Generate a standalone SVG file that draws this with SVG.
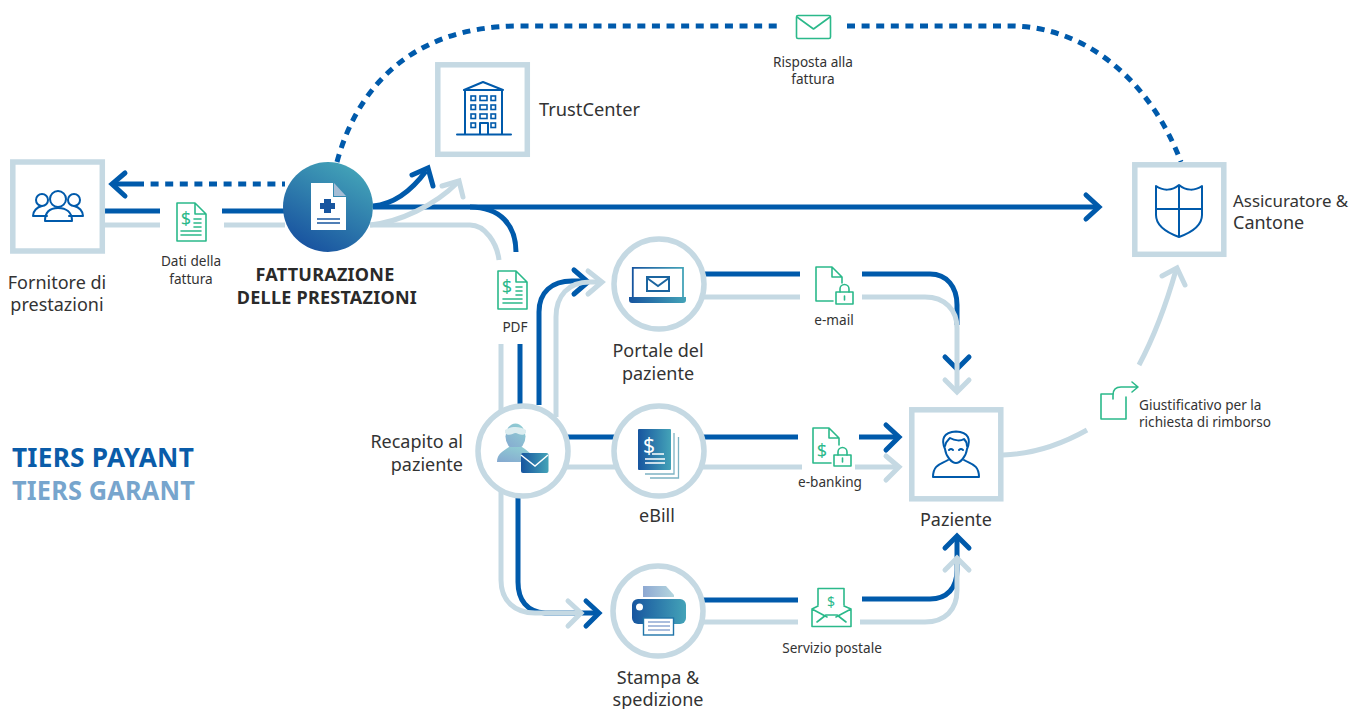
<svg xmlns="http://www.w3.org/2000/svg" width="1349" height="709" viewBox="0 0 1349 709">
<style>
text{font-family:"Noto Sans","Open Sans",sans-serif;fill:#333}
.l{font-size:18px}.s{font-size:13.6px}.m{text-anchor:middle}
.b{font-size:18px;letter-spacing:.25px;font-weight:700;text-anchor:middle;fill:#2a2a2a}
.t{font-size:26px;letter-spacing:.2px;font-weight:700;font-family:"Noto Sans",sans-serif}
.d,.c,.chd,.chc,.dot{fill:none;stroke-width:5}
.d{stroke:#005aab}.c{stroke:#c5d9e3}
.chd{stroke:#005aab;stroke-linecap:round;stroke-linejoin:miter}
.chc{stroke:#c5d9e3;stroke-linecap:round;stroke-linejoin:miter}
.dot{stroke:#005aab;stroke-dasharray:8 6.6}
.box{fill:#fff;stroke:#c5d9e3;stroke-width:5.5}
.ic{fill:none;stroke:#005aab;stroke-width:2;stroke-linejoin:round;stroke-linecap:round}
.g{fill:none;stroke:#2bb98a;stroke-width:1.6;stroke-linejoin:round;stroke-linecap:round}
.gt{font-size:18px;fill:#2bb98a;text-anchor:middle}
</style>
<defs>
<linearGradient id="gr" x1="0" y1="0" x2="1" y2="0"><stop offset="0" stop-color="#17559f"/><stop offset="1" stop-color="#44a3b8"/></linearGradient>
<linearGradient id="gm" x1="0.25" y1="1" x2="0.8" y2="0"><stop offset="0" stop-color="#17509f"/><stop offset="1" stop-color="#45a7b9"/></linearGradient>
<linearGradient id="gl" x1="0" y1="1" x2="0.6" y2="0"><stop offset="0" stop-color="#85a8d0"/><stop offset="1" stop-color="#8fcbd3"/></linearGradient>
<linearGradient id="gp" x1="0" y1="0" x2="1" y2="0"><stop offset="0" stop-color="#8ea8d2"/><stop offset="1" stop-color="#b4d6de"/></linearGradient>
</defs>

<g id="connectors">
<path class="dot" d="M337 162C355 95 405 26 520 26H781"/>
<path class="dot" d="M847 26H1010C1085 26 1150 80 1181 162"/>
<path class="dot" d="M136 184H285"/>
<path class="d" d="M112 184H136"/>
<path class="chd" d="M125 173L112 184L125 196"/>
<path class="d" d="M105 211H160M222 211H285"/>
<path class="d" d="M373 207H1097"/>
<path class="chd" d="M1086 195L1099 207L1086 219"/>
<path class="d" d="M373 206C395 204 412 190 426 171"/>
<path class="chd" d="M412 175L428 168L433 186"/>
<path class="d" d="M470 207C500 207 516 225 516 252"/>
<path class="d" d="M520 344V410"/>
<path class="d" d="M539 405V312C539 292 552 281 572 281H586"/>
<path class="chd" d="M574 270L588 282L574 294"/>
<path class="d" d="M518 495V582C518 600 527 612 545 613H597"/>
<path class="chd" d="M586 601L599 613L586 626"/>
<path class="d" d="M704 274H800M862 274H930C947 274 957 287 957 305V325"/>
<path class="chd" d="M945 357L957 369L969 357"/>
<path class="d" d="M566 437H616M702 437H798M859 437H897"/>
<path class="chd" d="M886 425L899 437L886 450"/>
<path class="d" d="M703 600H798M862 599H930C947 599 957 588 957 570V537"/>
<path class="chd" d="M945 548L957 536L969 548"/>

<path class="c" d="M105 225H160M224 225H285"/>
<path class="c" d="M370 225C400 222 435 205 457 183"/>
<path class="chc" d="M442 186L459 181L463 197"/>
<path class="c" d="M370 225H470C485 225 497 243 499 260"/>
<path class="c" d="M501 344V410"/>
<path class="c" d="M556 417V317C556 296 568 282 590 282H600"/>
<path class="chc" d="M588 271L602 282L588 294"/>
<path class="c" d="M501 490V580C501 601 515 613 535 613H580"/>
<path class="chc" d="M568 601L581 613L568 626"/>
<path class="c" d="M704 297H800M862 297H925C945 297 957 310 957 328V391"/>
<path class="chc" d="M945 380L957 392L969 380"/>
<path class="c" d="M566 467H616M702 467H802M855 467H897"/>
<path class="chc" d="M886 456L899 467L886 480"/>
<path class="c" d="M703 622H798M860 622H925C945 622 957 610 957 590V560"/>
<path class="chc" d="M945 570L957 558L969 570"/>
<path class="c" d="M1003 455C1035 454 1062 444 1087 430"/>
<path class="c" d="M1139 365C1155 335 1166 305 1176 270"/>
<path class="chc" d="M1162 276L1177 268L1185 285"/>
</g>

<g id="fornitore">
<rect class="box" x="12.800" y="162" width="89.500" height="89"/>
<circle class="ic" cx="58" cy="199" r="8"/>
<circle class="ic" cx="42" cy="200" r="6"/>
<circle class="ic" cx="74" cy="200" r="6"/>
<path class="ic" d="M45 221C45 212 50 208 58 208C66 208 72 212 72 221Z"/>
<path class="ic" d="M47 216H33C33 211 37 207 42 206M69 216H83C83 211 79 207 74 206"/>
<text class="l m" x="57" y="289">Fornitore di</text>
<text class="l m" x="57" y="311">prestazioni</text>
</g>

<g id="dati">
<path class="g" d="M177 203H195L206 214V241H177Z M195 203V214H206"/>
<text class="gt" x="186" y="225">$</text>
<path class="g" d="M194 219H201M194 223H201M194 227H201M181 231H201M181 235H201"/>
<text class="s m" x="191" y="266">Dati della</text>
<text class="s m" x="191" y="284">fattura</text>
</g>

<g id="fatturazione">
<circle cx="328" cy="207" r="45" fill="url(#gm)"/>
<path d="M311 183H333V197H346V230H311Z" fill="#fff"/>
<path d="M334 183L346 196H334Z" fill="#a5bdd5"/>
<path d="M324 199H331V203H335V209H331V213H324V209H320V203H324Z" fill="#17559f"/>
<path d="M317 219H340M317 223H340" stroke="#17559f" stroke-width="1.500"/>
<text class="b" x="325" y="280.500">FATTURAZIONE</text>
<text class="b" x="327" y="303.500">DELLE PRESTAZIONI</text>
</g>

<g id="trustcenter">
<rect class="box" x="437.800" y="64.800" width="89.500" height="89.500"/>
<path class="ic" d="M465 134V90H502V134M464 90L483 82L503 90M457 134.500H511"/>
<path class="ic" d="M480 134V123H488V134"/>
<g fill="none" stroke="#005aab" stroke-width="1.600">
<rect x="471" y="96" width="4.500" height="4.500"/><rect x="480" y="96" width="7" height="4.500"/><rect x="491" y="96" width="4.500" height="4.500"/>
<rect x="471" y="105" width="4.500" height="4.500"/><rect x="480" y="105" width="7" height="4.500"/><rect x="491" y="105" width="4.500" height="4.500"/>
<rect x="471" y="114" width="4.500" height="4.500"/><rect x="480" y="114" width="7" height="4.500"/><rect x="491" y="114" width="4.500" height="4.500"/>
<rect x="471" y="123" width="4.500" height="4.500"/><rect x="491" y="123" width="4.500" height="4.500"/>
</g>
<text class="l" x="539" y="116" textLength="101" lengthAdjust="spacingAndGlyphs">TrustCenter</text>
</g>

<g id="risposta">
<rect class="g" x="796.500" y="15.500" width="34" height="23" rx="1.500"/>
<path class="g" d="M797 17L813.500 29L830 17"/>
<text class="s m" x="813" y="67">Risposta alla</text>
<text class="s m" x="813" y="84">fattura</text>
</g>

<g id="assicuratore">
<rect class="box" x="1134.800" y="164.800" width="89" height="89.500"/>
<path class="ic" d="M1156 186C1163 191 1172 191 1179 185C1186 191 1195 191 1202 186V215C1202 226 1190 233 1179 237C1168 233 1156 226 1156 215Z M1179 185V237 M1156 209H1202" stroke-width="2.200"/>
<text x="1233" y="207" style="font-size:16.900px">Assicuratore &amp;</text>
<text class="l" x="1233" y="229">Cantone</text>
</g>

<g id="pdf">
<path class="g" d="M498 271H516L527 282V309H498Z M516 271V282H527"/>
<text class="gt" x="507" y="293">$</text>
<path class="g" d="M516 287H522M516 291H522M516 295H522M503 299H522M503 303H522"/>
<text class="s m" x="515" y="332">PDF</text>
</g>

<g id="portale">
<circle class="box" cx="659" cy="284" r="45"/>
<path d="M632.800 297V267.800H683V297" fill="none" stroke="url(#gr)" stroke-width="1.800"/>
<path d="M629 297H686V300Q686 303 683 303H632Q629 303 629 300Z" fill="url(#gr)"/>
<rect x="647" y="277" width="22" height="14" fill="none" stroke="#1c659f" stroke-width="2"/>
<path d="M647 278L658 286L669 278" fill="none" stroke="#1c659f" stroke-width="2"/>
<text class="l m" x="658" y="357">Portale del</text>
<text class="l m" x="658" y="380">paziente</text>
</g>

<g id="recapito">
<circle class="box" cx="523" cy="451" r="45"/>
<ellipse cx="515.500" cy="436.500" rx="10" ry="13" fill="url(#gl)"/>
<path d="M505 430C511 426 520 426 526 430L526 433C522 437 518 433 515.500 433C513 433 509 437 505 433Z" fill="#dcedf0"/>
<path d="M497 462C497 454 503 451 509 447H522C526 450 530 452 532 456L521 462Z" fill="url(#gl)"/>
<rect x="521" y="453" width="27.500" height="20" rx="2" fill="url(#gr)"/>
<path d="M521 455L535 466L548 455" fill="none" stroke="#fff" stroke-width="1.500"/>
<text class="l" x="463" y="448" text-anchor="end">Recapito al</text>
<text class="l" x="463" y="471" text-anchor="end">paziente</text>
</g>

<g id="ebill">
<circle class="box" cx="659" cy="451" r="45"/>
<path d="M674 433V474H645M678.500 437V478H650" fill="none" stroke="#7db3c4" stroke-width="1.300"/>
<rect x="638" y="429" width="33" height="41" rx="1" fill="url(#gr)"/>
<text x="649" y="453" font-size="21" text-anchor="middle" style="fill:#fff">$</text>
<path d="M652 454H664M645 459H665M645 463H665" stroke="#fff" stroke-width="1.300"/>
<text class="l m" x="657" y="522">eBill</text>
</g>

<g id="stampa">
<circle class="box" cx="658" cy="611" r="45"/>
<path d="M643 586H666L674 595V597H643Z" fill="url(#gp)"/>
<rect x="632" y="599" width="54" height="25" rx="6" fill="url(#gr)"/>
<circle cx="639.500" cy="607" r="3.500" fill="#fff"/>
<rect x="643.500" y="618" width="30" height="17" fill="#fff" stroke="#1f74a8" stroke-width="1.400"/>
<path d="M648 622H670M648 626H670M648 630H670" stroke="#8ea8d2" stroke-width="1.300"/>
<text class="l m" x="658" y="684">Stampa &amp;</text>
<text class="l m" x="658" y="706">spedizione</text>
</g>

<g id="email">
<path class="g" d="M833 301H816V267H832L842 277V283 M832 267V277H842"/>
<rect class="g" x="836" y="292" width="17" height="12"/>
<path class="g" d="M840 292V289A4.500 4.500 0 0 1 849 289V292M844.500 296V300"/>
<text class="s m" x="834" y="325">e-mail</text>
</g>

<g id="ebanking">
<path class="g" d="M831 463H813V428H829L839 438V445 M829 428V438H839"/>
<text class="gt" x="822" y="457">$</text>
<rect class="g" x="834" y="455" width="17" height="11"/>
<path class="g" d="M838 455V452A4.500 4.500 0 0 1 847 452V455M842.500 458V462"/>
<text class="s m" x="830" y="487">e-banking</text>
</g>

<g id="postale">
<path class="g" d="M818 605V588.500H844V605 M818 606L812 609V626.500H851V609L844 606 M812 609L827 617 M851 609L836 617 M817 622L826 615H837L846 622"/>
<text class="gt" x="831" y="607" style="font-size:14px">$</text>
<text class="s m" x="832" y="653">Servizio postale</text>
</g>

<g id="paziente">
<rect class="box" x="911.800" y="409.800" width="89" height="89"/>
<path class="ic" d="M945 449C941 440 943 432 956 431.500C969 432 971 440 967 449C966 457 960 463 956 463C952 463 946 457 945 449Z"/>
<path class="ic" d="M945 446C946 441 948 440 950 438C955 441 961 441 964 439C966 441 967 443 967 446"/>
<path class="ic" d="M949 450Q951 448 953 450M959 450Q961 448 963 450" stroke-width="1.500"/>
<path class="ic" d="M948 460C942 464 933 464 933 477H979C979 464 970 464 964 460"/>
<text class="l m" x="956" y="526">Paziente</text>
</g>

<g id="giustificativo">
<path class="g" d="M1113 394H1101V419H1126V397"/>
<path class="g" d="M1113 399V395Q1113 387 1121 387H1138M1132 382L1138 387L1132 392"/>
<text class="s" x="1139" y="410">Giustificativo per la</text>
<text class="s" x="1139" y="427">richiesta di rimborso</text>
</g>

<g id="legenda">
<text class="t" x="12" y="467" textLength="182" lengthAdjust="spacingAndGlyphs" style="fill:#0a5ca9">TIERS PAYANT</text>
<text class="t" x="12" y="500" textLength="183" lengthAdjust="spacingAndGlyphs" style="fill:#77a5cd">TIERS GARANT</text>
</g>
</svg>
